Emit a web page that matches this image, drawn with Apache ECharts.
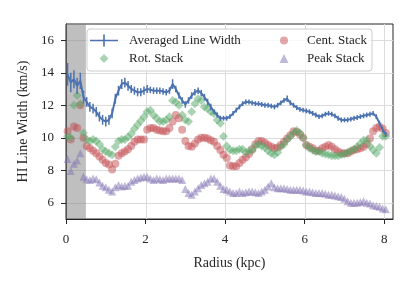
<!DOCTYPE html>
<html><head><meta charset="utf-8">
<script src="https://cdn.jsdelivr.net/npm/echarts@6/dist/echarts.min.js"></script>
<style>html,body{margin:0;padding:0;background:#fff}#c{width:416px;height:285px}</style>
</head><body><div id="c"></div>
<script>
const radius = [0.04,0.12,0.20,0.28,0.36,0.44,0.52,0.60,0.68,0.76,0.84,0.92,1.00,1.08,1.16,1.24,1.32,1.40,1.48,1.56,1.64,1.72,1.80,1.88,1.96,2.04,2.12,2.20,2.28,2.36,2.44,2.52,2.60,2.68,2.76,2.84,2.92,3.00,3.08,3.16,3.24,3.32,3.40,3.48,3.56,3.64,3.72,3.80,3.88,3.96,4.04,4.12,4.20,4.28,4.36,4.44,4.52,4.60,4.68,4.76,4.84,4.92,5.00,5.08,5.16,5.24,5.32,5.40,5.48,5.56,5.64,5.72,5.80,5.88,5.96,6.04,6.12,6.20,6.28,6.36,6.44,6.52,6.60,6.68,6.76,6.84,6.92,7.00,7.08,7.16,7.24,7.32,7.40,7.48,7.56,7.64,7.72,7.80,7.88,7.96,8.04];

const avgWidth = [13.9,13.4,13.6,13.2,13.5,12.5,12.2,11.9,11.8,11.6,11.3,11.1,11.0,11.1,11.5,12.4,12.9,13.3,13.4,13.2,13.0,12.9,12.8,12.8,12.9,13.0,12.95,12.9,12.9,12.9,12.85,12.8,12.9,13.3,13.0,12.6,12.3,12.05,12.3,12.6,12.8,12.9,12.75,12.5,12.2,11.9,11.6,11.4,11.2,11.2,11.2,11.3,11.5,11.7,11.9,12.1,12.2,12.2,12.15,12.1,12.1,12.05,12.0,12.0,11.95,11.9,12.0,12.15,12.3,12.4,12.15,12.0,11.85,11.75,11.7,11.65,11.6,11.5,11.4,11.3,11.35,11.45,11.5,11.45,11.35,11.2,11.1,11.1,11.1,11.15,11.2,11.25,11.3,11.35,11.4,11.45,11.5,11.3,10.9,10.5,10.2];

const avgErr = [0.7,0.6,0.55,0.5,0.5,0.4,0.3,0.3,0.3,0.3,0.3,0.3,0.3,0.3,0.3,0.3,0.3,0.3,0.3,0.3,0.25,0.25,0.25,0.25,0.25,0.25,0.2,0.2,0.2,0.2,0.2,0.2,0.2,0.3,0.2,0.2,0.2,0.2,0.2,0.2,0.2,0.2,0.2,0.2,0.2,0.2,0.15,0.15,0.15,0.15,0.15,0.15,0.15,0.15,0.15,0.15,0.15,0.15,0.15,0.15,0.15,0.15,0.15,0.15,0.15,0.15,0.15,0.15,0.15,0.2,0.15,0.15,0.15,0.15,0.15,0.15,0.15,0.15,0.15,0.15,0.15,0.15,0.15,0.15,0.15,0.15,0.15,0.15,0.15,0.15,0.15,0.15,0.15,0.15,0.15,0.15,0.15,0.15,0.15,0.15,0.15];

const rotStack = [10.1,10.0,12.0,12.6,12.1,10.3,9.9,9.8,9.9,9.8,9.6,9.3,9.15,9.05,8.95,9.45,9.8,9.9,9.9,10.05,10.25,10.55,10.8,11.05,11.3,11.6,11.7,11.4,11.2,11.0,11.0,11.1,11.3,12.3,12.2,12.0,11.4,11.1,11.0,11.6,12.1,12.4,12.3,11.9,11.8,11.6,11.5,11.1,10.9,10.1,9.5,9.25,9.2,9.2,9.3,9.3,9.1,9.2,9.2,9.5,9.6,9.5,9.4,9.2,9.05,8.95,9.1,9.45,9.6,9.9,10.1,10.3,10.45,10.3,10.0,9.55,9.35,9.25,9.15,9.15,9.05,9.0,8.95,8.9,8.9,8.9,8.95,9.0,9.1,9.2,9.3,9.45,9.65,9.85,9.85,9.5,9.25,9.05,9.4,10.1,10.1];

const centStack = [10.4,9.9,10.7,10.6,12.0,10.0,9.5,9.35,9.2,9.05,8.85,8.65,8.45,8.35,8.05,8.4,8.9,9.05,9.15,9.3,9.5,9.75,9.9,9.9,9.9,10.5,10.6,10.6,10.5,10.45,10.4,10.4,10.6,11.0,11.4,11.2,10.5,9.8,9.5,9.45,9.65,9.9,10.0,10.0,9.95,9.85,9.75,9.5,9.25,8.95,8.75,8.3,8.25,8.25,8.45,8.65,8.8,9.0,9.3,9.6,9.8,9.8,9.7,9.55,9.45,9.35,9.4,9.55,9.75,9.95,10.15,10.4,10.35,10.2,10.0,9.55,9.45,9.35,9.2,9.2,9.35,9.45,9.55,9.45,9.3,9.15,9.05,9.05,9.05,9.15,9.25,9.3,9.35,9.45,9.6,9.95,10.4,10.6,10.7,10.55,10.3];

const peakStack = [8.7,7.95,8.4,8.6,9.05,7.6,7.45,7.4,7.5,7.45,7.25,7.05,6.95,6.8,6.7,6.95,7.1,7.0,7.05,7.05,7.3,7.4,7.5,7.55,7.6,7.6,7.5,7.4,7.5,7.45,7.4,7.5,7.5,7.5,7.5,7.5,7.4,6.85,6.6,6.5,6.7,6.9,7.1,7.2,7.3,7.5,7.5,7.3,7.05,6.85,6.8,6.7,6.6,6.6,6.7,6.6,6.65,6.7,6.7,6.65,6.6,6.7,6.8,7.0,7.2,6.95,6.9,6.9,6.9,6.85,6.8,6.8,6.8,6.8,6.75,6.7,6.7,6.65,6.6,6.6,6.6,6.55,6.5,6.5,6.45,6.4,6.35,6.25,6.1,6.0,6.0,6.0,6.05,6.1,6.0,5.95,5.85,5.8,5.75,5.65,5.6];

const xTicks = [0, 2, 4, 6, 8];
const yTicks = [6, 8, 10, 12, 14, 16];
const shadedRange = [0, 0.5];

const C_BLUE = '#4C72B0', C_GREEN = '#55A868', C_RED = '#C44E52', C_PURPLE = '#8172B2';
const FONT = '"Liberation Serif", "Times New Roman", serif';
const INK = '#262626';

const pts = arr => radius.map((r, i) => [r, arr[i]]);

const chart = echarts.init(document.getElementById('c'), null, {renderer: 'canvas'});

const legendText = {fontFamily: FONT, fontSize: 13, color: INK};

chart.setOption({
  animation: false,
  backgroundColor: '#ffffff',
  grid: {left: 66, right: 23, top: 24, bottom: 66, show: true, borderColor: INK, borderWidth: 1, backgroundColor: 'transparent'},
  xAxis: {
    type: 'value', min: 0, max: 8.22,
    name: 'Radius (kpc)', nameLocation: 'middle', nameGap: 37,
    nameTextStyle: {fontFamily: FONT, fontSize: 14, color: INK},
    axisLine: {show: true, lineStyle: {color: INK, width: 1}},
    axisTick: {show: true, inside: false, length: 5, lineStyle: {color: INK, width: 1}, customValues: xTicks},
    axisLabel: {fontFamily: FONT, fontSize: 13, color: INK, margin: 14, customValues: xTicks},
    splitLine: {show: false}
  },
  yAxis: {
    type: 'value', min: 5, max: 17,
    name: 'HI Line Width (km/s)', nameLocation: 'middle', nameGap: 34,
    nameTextStyle: {fontFamily: FONT, fontSize: 14, color: INK},
    axisLine: {show: true, lineStyle: {color: INK, width: 1}},
    axisTick: {show: true, inside: false, length: 5, lineStyle: {color: INK, width: 1}, customValues: yTicks},
    axisLabel: {fontFamily: FONT, fontSize: 13, color: INK, margin: 12, customValues: yTicks},
    splitLine: {show: false}
  },
  graphic: [{
    type: 'rect', z: 20, shape: {x: 87, y: 29, width: 285, height: 42, r: 3},
    style: {fill: 'rgba(255,255,255,0.8)', stroke: '#cccccc', lineWidth: 1}
  }],
  legend: [
    {left: 90, top: 34, padding: 0, z: 30, itemWidth: 28, itemHeight: 12, textStyle: Object.assign({padding: [0,0,0,6]}, legendText),
     data: [{name: 'Averaged Line Width', icon: 'path://M0,5.2H28V6.8H0Z M13.2,0H14.8V12H13.2Z'}]},
    {left: 99.5, top: 52, padding: 0, z: 30, itemWidth: 9, itemHeight: 9, textStyle: Object.assign({padding: [0,0,0,15.5]}, legendText),
     data: [{name: 'Rot. Stack', icon: 'diamond', itemStyle: {opacity: 0.5}}]},
    {left: 280, top: 34, padding: 0, z: 30, itemWidth: 8, itemHeight: 8, textStyle: Object.assign({padding: [0,0,0,14]}, legendText),
     data: [{name: 'Cent. Stack', icon: 'circle', itemStyle: {opacity: 0.5}}]},
    {left: 279.5, top: 52, padding: 0, z: 30, itemWidth: 9, itemHeight: 9, textStyle: Object.assign({padding: [0,0,0,13.5]}, legendText),
     data: [{name: 'Peak Stack', icon: 'triangle', itemStyle: {opacity: 0.5}}]}
  ],
  series: [
    {
      type: 'custom', name: 'grid', silent: true, z: 0,
      data: [0],
      renderItem(params, api) {
        const cs = params.coordSys;
        const children = [];
        xTicks.forEach(t => {
          if (t <= 0) return;
          const x = Math.round(api.coord([t, 5])[0]) + 0.5;
          children.push({type: 'line', shape: {x1: x, y1: cs.y, x2: x, y2: cs.y + cs.height}, style: {stroke: '#dcdcdc', lineWidth: 1}});
        });
        yTicks.forEach(t => {
          const y = Math.round(api.coord([0, t])[1]) + 0.5;
          children.push({type: 'line', shape: {x1: cs.x, y1: y, x2: cs.x + cs.width, y2: y}, style: {stroke: '#dcdcdc', lineWidth: 1}});
        });
        return {type: 'group', children};
      }
    },
    {
      type: 'custom', name: 'band', silent: true, z: 1,
      data: [shadedRange],
      renderItem(params, api) {
        const cs = params.coordSys;
        const x0 = api.coord([api.value(0), 5])[0];
        const x1 = api.coord([api.value(1), 5])[0];
        return {type: 'rect', shape: {x: x0, y: cs.y, width: x1 - x0, height: cs.height}, style: {fill: 'rgba(128,128,128,0.5)'}};
      }
    },
    {
      type: 'scatter', name: 'Peak Stack', z: 2, data: pts(peakStack),
      symbol: 'triangle', symbolSize: 8, itemStyle: {color: C_PURPLE, opacity: 0.5}
    },
    {
      type: 'scatter', name: 'Cent. Stack', z: 2, data: pts(centStack),
      symbol: 'circle', symbolSize: 8, itemStyle: {color: C_RED, opacity: 0.5}
    },
    {
      type: 'scatter', name: 'Rot. Stack', z: 2, data: pts(rotStack),
      symbol: 'diamond', symbolSize: 9, itemStyle: {color: C_GREEN, opacity: 0.5}
    },
    {
      type: 'line', name: 'Averaged Line Width', z: 3, data: pts(avgWidth),
      symbol: 'none', lineStyle: {color: C_BLUE, width: 2}, itemStyle: {color: C_BLUE}
    },
    {
      type: 'custom', name: 'avgErr', z: 3, silent: true,
      data: radius.map((r, i) => [r, avgWidth[i] - avgErr[i], avgWidth[i] + avgErr[i]]),
      encode: {x: 0, y: [1, 2]},
      renderItem(params, api) {
        const p1 = api.coord([api.value(0), api.value(1)]);
        const p2 = api.coord([api.value(0), api.value(2)]);
        return {type: 'line', shape: {x1: p1[0], y1: p1[1], x2: p2[0], y2: p2[1]}, style: {stroke: C_BLUE, lineWidth: 1.5}};
      }
    }
  ]
});
</script>
</body></html>
